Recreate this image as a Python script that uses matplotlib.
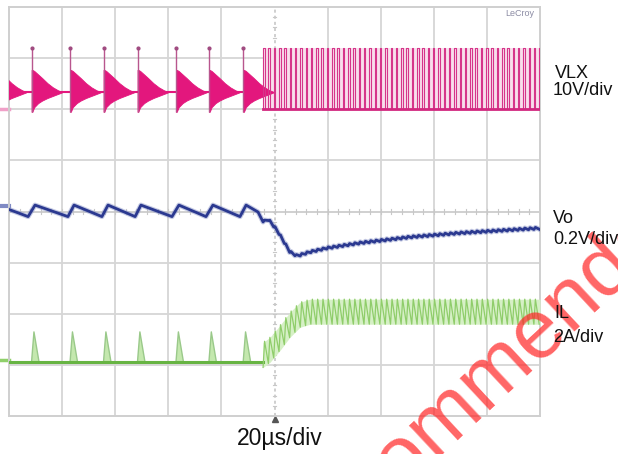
import numpy as np
import matplotlib
matplotlib.use("Agg")
import matplotlib.pyplot as plt

# ---------------- data ----------------
T_DIV = 20.0            # µs per division
N_XDIV, N_YDIV = 10, 8
T_END = T_DIV * N_XDIV

# channel scales and zero positions (divisions from the bottom of the screen)
VLX_SCALE, VLX_ZERO = 10.0, 6.0     # V/div
VO_SCALE, VO_ZERO = 200.0, 4.0      # mV/div (deviation from nominal)
IL_SCALE, IL_ZERO = 2.0, 1.06       # A/div

# light-load (PFM) pulses, µs
pfm_pulse_t = [-5.0, 8.5, 23.0, 35.6, 48.4, 62.9, 75.3, 88.2]
t_load_step = 95.7
sw_period = 2.0
sw_on = 0.56

vin = 12.0
vlx_rest = 3.4
vlx_low = -0.5
ring_dt = [0.0, 0.3, 1.0, 2.5, 4.0, 6.0, 8.0, 10.0, 11.5]
ring_upper = [7.7, 7.7, 7.5, 6.8, 6.1, 5.1, 4.3, 3.7, 3.4]
ring_lower = [-0.5, -0.5, 0.4, 1.2, 1.7, 2.2, 2.6, 3.0, 3.3]

il_pfm_peak = 1.17
il_rise, il_fall = 0.9, 1.9
il_step_t = [95.7, 98.3, 102.1, 105.8, 109.6, 113.4, 200.0]
il_step_mean = [0.27, 0.47, 0.94, 1.45, 1.84, 1.96, 1.96]
il_ripple_pp = 0.98

vo_start_mv = 8.0
vo_trough_t = [7.2, 22.2, 35.0, 47.5, 61.4, 74.2, 87.0]
vo_peak_t = [9.8, 24.5, 37.3, 49.7, 64.0, 76.8, 89.3]
vo_trough_mv = -20.0
vo_peak_mv = 25.0
vo_step_t = [93.8, 95.7, 97.6, 100.9, 105.8, 108.5, 113.4, 119.8, 132.2, 151.0, 169.9, 188.7, 200.0]
vo_step_mv = [-2, -41, -30, -72, -158, -174, -158, -143, -123, -100, -84, -72, -65]
vo_ripple_pp = 8.0

labels = [("VLX", "10V/div"), ("Vo", "0.2V/div"), ("IL", "2A/div")]
label_px = [(555, 78, 553, 95), (553, 223, 553, 244), (554, 318, 553, 342)]
time_label = "20µs/div"

# ---------------- helpers ----------------
def vlx_div(v):
    return VLX_ZERO + np.asarray(v, float) / VLX_SCALE

def vo_div(mv):
    return VO_ZERO + np.asarray(mv, float) / VO_SCALE

def il_div(a):
    return IL_ZERO + np.asarray(a, float) / IL_SCALE

FIG_W, FIG_H = 618, 454
fig = plt.figure(figsize=(FIG_W / 100, FIG_H / 100), dpi=100)
plt.rcParams["font.family"] = ["Liberation Sans", "DejaVu Sans"]
ax = fig.add_axes([9 / FIG_W, (FIG_H - 416) / FIG_H, 531 / FIG_W, 409 / FIG_H])
ax.set_xlim(0, T_END)
ax.set_ylim(0, N_YDIV)

# grid
grid_c = "#d6d6d6"
for i in range(1, N_XDIV):
    if i == N_XDIV // 2:
        continue
    ax.axvline(i * T_DIV, color=grid_c, lw=1.3, zorder=0)
for j in range(1, N_YDIV):
    if j == N_YDIV // 2:
        continue
    ax.axhline(j, color=grid_c, lw=1.3, zorder=0)
ax.axvline(T_END / 2, color="#c2c2c2", lw=1.1, ls=(0, (2, 2)), zorder=0)
ax.axhline(N_YDIV / 2, color="#c8c8c8", lw=1.2, zorder=0)
for yy in np.arange(0, N_YDIV, 0.2):
    ax.plot([T_END / 2 - 0.6, T_END / 2 + 0.6], [yy, yy], color="#c8c8c8", lw=0.8, zorder=0)
for xx in np.arange(0, T_END, T_DIV / 5):
    ax.plot([xx, xx], [N_YDIV / 2 - 0.04, N_YDIV / 2 + 0.04], color="#c8c8c8", lw=0.8, zorder=0)
for s in ax.spines.values():
    s.set_color("#cfcfcf")
    s.set_linewidth(1.4)
ax.set_xticks([])
ax.set_yticks([])

# ---------------- VLX ----------------
mag = "#e3177d"
for tp in pfm_pulse_t:
    dt = np.asarray(ring_dt)
    ax.fill_between(tp + dt, vlx_div(ring_lower), vlx_div(ring_upper),
                    color=mag, lw=0.6, edgecolor=mag, zorder=3)
ax.plot([0, t_load_step], vlx_div([vlx_rest, vlx_rest]), color=mag, lw=1.5, zorder=3)
spikes = [tp for tp in pfm_pulse_t if tp >= 0]
ax.vlines(spikes, vlx_div(vlx_low), vlx_div(vin), color="#b8568e", lw=1.0, zorder=4)
ax.plot(spikes, vlx_div([vin] * len(spikes)), "o", ms=2, color="#a04a80", zorder=4)

n_sw = int((T_END - t_load_step) / sw_period) + 1
sw_t = t_load_step + sw_period * np.arange(n_sw)
ax.fill_between([t_load_step, T_END], vlx_div(0), vlx_div(vin), color="#f8dfec", lw=0, zorder=2)
sq_x, sq_y = [], []
for tk in sw_t:
    sq_x += [tk, tk, tk + sw_on, tk + sw_on]
    sq_y += [0, vin, vin, 0]
ax.plot(sq_x, vlx_div(sq_y), color="#d6358a", lw=0.8, zorder=3)
ax.plot([t_load_step, T_END], vlx_div([0, 0]), color="#d2287f", lw=2.0, zorder=3)

# ---------------- Vo ----------------
vo_x = [0.0]
vo_y = [vo_start_mv]
for tt, tpk in zip(vo_trough_t, vo_peak_t):
    vo_x += [tt, tpk]
    vo_y += [vo_trough_mv, vo_peak_mv]
vo_x += vo_step_t[:2]
vo_y += vo_step_mv[:2]
rip_x, rip_y = [], []
for tk in sw_t:
    for tt, sgn in ((tk, -1), (tk + sw_on, 1)):
        if tt > vo_step_t[1] and tt <= T_END:
            rip_x.append(tt)
            rip_y.append(np.interp(tt, vo_step_t, vo_step_mv) + sgn * vo_ripple_pp / 2)
vo_x += rip_x
vo_y += rip_y
ax.plot(vo_x, vo_div(vo_y), color="#8c96c8", lw=3.6, alpha=0.5, zorder=5)
ax.plot(vo_x, vo_div(vo_y), color="#2b3990", lw=2.0, zorder=5)

# ---------------- IL ----------------
il_x, il_y = [0.0], [0.0]
for tp in pfm_pulse_t:
    if tp < 0:
        continue
    il_x += [tp, tp + il_rise, tp + il_rise + il_fall]
    il_y += [0, il_pfm_peak, 0]
il_x.append(t_load_step)
il_y.append(0.0)
for tp in pfm_pulse_t:
    if tp < 0:
        continue
    ax.fill([tp, tp + il_rise, tp + il_rise + il_fall],
            il_div([0, il_pfm_peak, 0]), color="#c4e8ae", lw=0, zorder=4)
ax.plot(il_x, il_div(il_y), color="#9ac98a", lw=1.0, zorder=4)
ax.plot([0, t_load_step], il_div([0, 0]), color="#67b443", lw=2.2, zorder=4)

env_t = np.asarray(il_step_t)
env_m = np.asarray(il_step_mean)
ax.fill_between(env_t, il_div(env_m - il_ripple_pp / 2), il_div(env_m + il_ripple_pp / 2),
                color="#d6f0c6", lw=0, zorder=3)
tri_x, tri_y = [], []
for tk in sw_t:
    for tt, sgn in ((tk, -1), (tk + sw_on, 1)):
        if tt <= T_END:
            tri_x.append(tt)
            tri_y.append(np.interp(tt, il_step_t, il_step_mean) + sgn * il_ripple_pp / 2)
ax.plot(tri_x, il_div(tri_y), color="#8fcd6a", lw=0.9, zorder=4)

# channel markers at the left edge and trigger marker
ax.plot([-3.2, 0], vlx_div([0.1, 0.1]), color="#f0a0c8", lw=2.5, clip_on=False)
ax.plot([-3.2, 0], vo_div([20, 20]), color="#7f8ac4", lw=3.0, clip_on=False)
ax.plot([-3.2, 0], il_div([0.06, 0.06]), color="#8fd06a", lw=2.5, clip_on=False)
ax.plot([T_END / 2], [-0.06], marker="^", ms=4, color="#555555", clip_on=False)

# ---------------- texts ----------------
def fx(px):
    return px / FIG_W

def fy(py):
    return 1 - py / FIG_H

for (l1, l2), (x1, y1, x2, y2) in zip(labels, label_px):
    fig.text(fx(x1), fy(y1), l1, fontsize=13, color="#111111", va="baseline", ha="left", zorder=5)
    fig.text(fx(x2), fy(y2), l2, fontsize=13, color="#111111", va="baseline", ha="left", zorder=5)
fig.text(fx(280), fy(445), time_label, fontsize=16.5, color="#111111", va="baseline", ha="center", zorder=5)
fig.text(fx(520), fy(16), "LeCroy", fontsize=6.5, color="#8c8ca4", va="baseline", ha="center", zorder=5)

# watermark (partly outside the picture, as in the reference)
fig.text(fx(291), fy(589), "Recommended", fontsize=60, color="#ff2a2a", alpha=0.72,
         rotation=43, rotation_mode="anchor", ha="left", va="baseline", zorder=4)

fig.savefig("out.png", dpi=100)
